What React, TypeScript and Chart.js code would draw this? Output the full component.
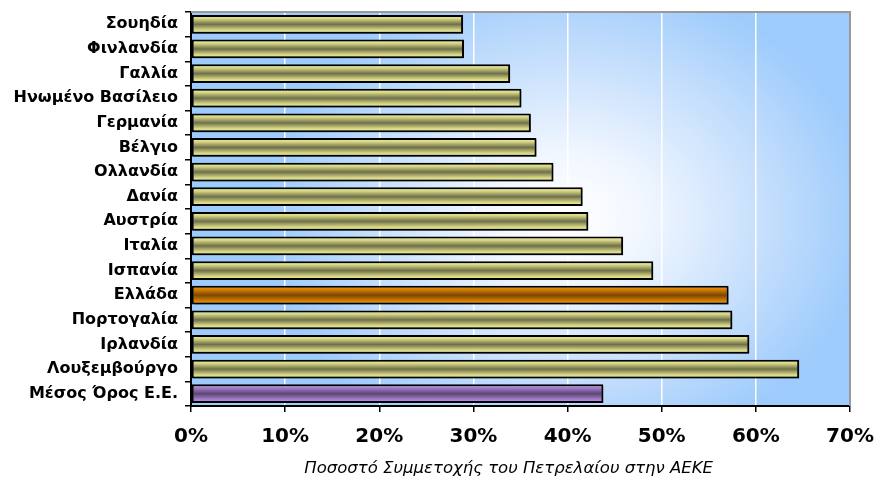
import React, { useEffect, useRef } from "react";
import { Chart, registerables } from "chart.js";

Chart.register(...registerables);

const categories = [
  "Σουηδία",
  "Φινλανδία",
  "Γαλλία",
  "Ηνωμένο Βασίλειο",
  "Γερμανία",
  "Βέλγιο",
  "Ολλανδία",
  "Δανία",
  "Αυστρία",
  "Ιταλία",
  "Ισπανία",
  "Ελλάδα",
  "Πορτογαλία",
  "Ιρλανδία",
  "Λουξεμβούργο",
  "Μέσος Όρος Ε.Ε.",
];
const values = [28.9, 29.0, 33.9, 35.1, 36.1, 36.7, 38.5, 41.6, 42.2, 45.9, 49.1, 57.1, 57.5, 59.3, 64.6, 43.8];
const greeceLabel = "Ελλάδα";
const averageLabel = "Μέσος Όρος Ε.Ε.";
const xMin = 0;
const xMax = 70;
const xStep = 10;
const axisTitle = "Ποσοστό Συμμετοχής του Πετρελαίου στην ΑΕΚΕ";

const BAR_PCT = 0.76;

const palettes: Record<string, [string, string, string]> = {
  normal: ["#f4f49c", "#d6d684", "#6f6f4a"],
  greece: ["#ff9a0a", "#d67c00", "#7a4700"],
  average: ["#c898f0", "#a47cc8", "#5c4674"],
};

function barFill(ctx: any) {
  const chart = ctx.chart;
  const y = chart.scales && chart.scales.y;
  const label = categories[ctx.dataIndex];
  const key = label === greeceLabel ? "greece" : label === averageLabel ? "average" : "normal";
  const [edge, mid, core] = palettes[key];
  if (!y || ctx.type !== "data" || !y.height) return mid;
  const c = y.getPixelForValue(ctx.dataIndex);
  const h = (y.height / categories.length) * BAR_PCT;
  const g = chart.ctx.createLinearGradient(0, c - h / 2, 0, c + h / 2);
  g.addColorStop(0, edge);
  g.addColorStop(0.2, mid);
  g.addColorStop(0.5, core);
  g.addColorStop(0.8, mid);
  g.addColorStop(1, edge);
  return g;
}

const bgPlugin = {
  id: "bgPlugin",
  beforeDraw(chart: any) {
    const { ctx, chartArea: a } = chart;
    if (!a) return;
    const w = a.right - a.left;
    const h = a.bottom - a.top;
    const cx = a.left + w * 0.57;
    const cy = a.top + h * 0.52;
    const rx = w * 0.46;
    const ry = h * 0.62;
    ctx.save();
    ctx.beginPath();
    ctx.rect(a.left, a.top, w, h);
    ctx.clip();
    ctx.fillStyle = "#9ccbfc";
    ctx.fillRect(a.left, a.top, w, h);
    ctx.translate(cx, cy);
    ctx.scale(1, ry / rx);
    const g = ctx.createRadialGradient(0, 0, 0, 0, 0, rx);
    g.addColorStop(0, "#ffffff");
    g.addColorStop(0.25, "#f2f7ff");
    g.addColorStop(0.7, "#c0dcfc");
    g.addColorStop(1, "#9ccbfc");
    ctx.fillStyle = g;
    ctx.fillRect(-rx * 2, -rx * 2, rx * 4, rx * 4);
    ctx.restore();
  },
  beforeDatasetsDraw(chart: any) {
    const ctx = chart.ctx;
    ctx.save();
    ctx.shadowColor = "rgba(0,0,0,0.35)";
    ctx.shadowOffsetX = 2;
    ctx.shadowOffsetY = 2;
    ctx.shadowBlur = 2;
  },
  afterDatasetsDraw(chart: any) {
    chart.ctx.restore();
  },
  afterDraw(chart: any) {
    const { ctx, chartArea: a } = chart;
    ctx.save();
    ctx.strokeStyle = "#999999";
    ctx.lineWidth = 2;
    ctx.beginPath();
    ctx.moveTo(a.left, a.top);
    ctx.lineTo(a.right, a.top);
    ctx.lineTo(a.right, a.bottom);
    ctx.stroke();
    ctx.fillStyle = "#000";
    ctx.font = "italic 16.5px 'DejaVu Sans'";
    ctx.textAlign = "center";
    ctx.textBaseline = "alphabetic";
    ctx.fillText(axisTitle, a.left + (a.right - a.left) * 0.482, a.bottom + 67);
    ctx.restore();
  },
};

export default function App() {
  const ref = useRef<HTMLCanvasElement | null>(null);
  useEffect(() => {
    if (!ref.current) return;
    const chart = new Chart(ref.current, {
      type: "bar",
      data: {
        labels: categories,
        datasets: [
          {
            data: values,
            backgroundColor: barFill,
            borderColor: "#000",
            borderWidth: 2,
            borderSkipped: false,
            categoryPercentage: 1,
            barPercentage: BAR_PCT,
          },
        ],
      },
      options: {
        indexAxis: "y",
        animation: false,
        responsive: true,
        maintainAspectRatio: false,
        layout: { padding: { top: 12, right: 30, left: 0, bottom: 0 } },
        plugins: { legend: { display: false }, tooltip: { enabled: false } },
        scales: {
          x: {
            type: "linear",
            min: xMin,
            max: xMax,
            afterFit: (s: any) => {
              s.height = 71;
              s.paddingLeft = 0;
              s.paddingRight = 0;
            },
            ticks: {
              stepSize: xStep,
              color: "#000",
              padding: 13,
              font: { family: "'DejaVu Sans'", size: 20, weight: "bold" },
              callback: (v: any) => v + "%",
            },
            grid: {
              color: "#ffffff",
              lineWidth: 1.5,
              tickColor: "#000",
              tickLength: 6,
            },
            border: { display: true, color: "#000", width: 2 },
          },
          y: {
            type: "category",
            afterFit: (s: any) => {
              s.width = 191;
              s.paddingTop = 0;
              s.paddingBottom = 0;
            },
            ticks: {
              color: "#000",
              padding: 7,
              autoSkip: false,
              font: { family: "'DejaVu Sans'", size: 16, weight: "bold" },
            },
            grid: {
              offset: true,
              drawOnChartArea: false,
              drawTicks: true,
              tickLength: 6,
              tickColor: "#000",
              lineWidth: 1.5,
            },
            border: { display: true, color: "#000", width: 2 },
          },
        },
      },
      plugins: [bgPlugin],
    });
    return () => chart.destroy();
  }, []);
  return (
    <div style={{ position: "fixed", left: 0, top: 0, width: 880, height: 477, background: "#fff" }}>
      <canvas ref={ref} />
    </div>
  );
}
